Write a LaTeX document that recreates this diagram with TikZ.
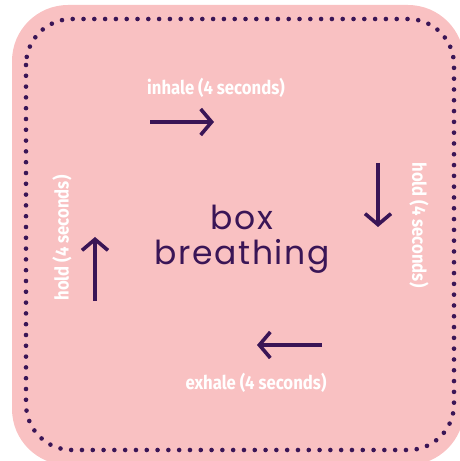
\documentclass[tikz,border=0pt]{standalone}
\usepackage{fontspec}
\usepackage{xcolor}
\usetikzlibrary{arrows.meta,positioning,calc}
\setmainfont{Poppins}
\newfontfamily\labelfont[FakeStretch=0.88]{Fira Sans}
\newfontfamily\titlefont[LetterSpace=5]{Poppins}
\definecolor{boxpink}{HTML}{F9C1C2}
\definecolor{boxpurple}{HTML}{3A1556}
\tikzset{
  steplabel/.style={text=white,font=\labelfont\bfseries\fontsize{19}{19}\selectfont,inner sep=0pt},
  steparrow/.style={draw=boxpurple,line width=3.6pt,-{Straight Barb[length=11pt,width=26pt,line width=3.6pt]}},
}

\begin{document}
\begin{tikzpicture}[x=1pt,y=1pt]
  \useasboundingbox (0,0) rectangle (460,461);
  \clip (0,0) rectangle (460,461);
  \fill[boxpink,rounded corners=56pt] (12,456) rectangle (464,-4);
  \draw[boxpurple,line width=4.6pt,line cap=round,dash pattern=on 0pt off 10.8pt,rounded corners=46pt] (26,442) rectangle (454,11);

  \node[text=boxpurple,font=\titlefont\fontsize{33}{35}\selectfont,align=center] (title) at (242,222) {box\\breathing};

  \node[steplabel] (inhale) at (216,373) {inhale (4 seconds)};
  \node[steplabel,rotate=-90] (holdright) at (419,236) {hold (4 seconds)};
  \node[steplabel] (exhale) at (256,78) {exhale (4 seconds)};
  \node[steplabel,rotate=90] (holdleft) at (62,223) {hold (4 seconds)};

  \coordinate (in1) at (150,339);
  \coordinate (in2) at (214,339);
  \coordinate (hr1) at (378,298);
  \coordinate (hr2) at (378,234);
  \coordinate (ex1) at (322,116);
  \coordinate (ex2) at (257,116);
  \coordinate (hl1) at (95,160);
  \coordinate (hl2) at (95,224);
  \draw[steparrow] (in1) -- (in2);
  \draw[steparrow] (hr1) -- (hr2);
  \draw[steparrow] (ex1) -- (ex2);
  \draw[steparrow] (hl1) -- (hl2);
\end{tikzpicture}
\end{document}
